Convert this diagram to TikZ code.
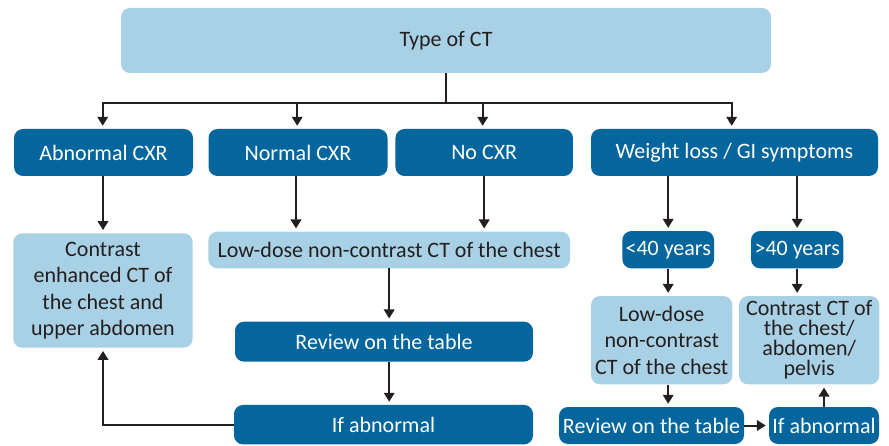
\documentclass[tikz,border=0pt]{standalone}
\usepackage{fontspec}
\setmainfont{Carlito}
\usetikzlibrary{arrows.meta}
\definecolor{lightbox}{HTML}{A9D1E5}
\definecolor{darkbox}{HTML}{04669C}
\definecolor{arrowc}{HTML}{231F20}
\begin{document}
\begin{tikzpicture}[x=1pt,y=-1pt,
  box/.style={rounded corners=9pt, inner sep=0pt, align=center, font=\fontsize{22}{26.5}\selectfont},
  lbox/.style={box, fill=lightbox, text=arrowc},
  dbox/.style={box, fill=darkbox, text=white},
  ln/.style={draw=arrowc, line width=2pt},
  arr/.style={ln, -{Triangle[length=9pt,width=10.5pt]}, shorten >=3pt}]
\useasboundingbox (0,0) rectangle (889,446);

\node[lbox, minimum width=650pt, minimum height=65pt] (top) at (446,40.5) {Type of CT};

\node[dbox, minimum width=179pt, minimum height=47pt] (abn) at (103.5,152.5) {Abnormal CXR};
\node[dbox, minimum width=179pt, minimum height=47pt] (norm) at (298,152.5) {Normal CXR};
\node[dbox, minimum width=177.5pt, minimum height=47pt] (nocxr) at (484.2,152.5) {No CXR};
\node[dbox, minimum width=287pt, minimum height=47pt] (wl) at (734.5,152.5) {Weight loss / GI symptoms};

\node[lbox, minimum width=179.4pt, minimum height=114.4pt] (contr) at (103,290.5) {Contrast\\enhanced CT of\\the chest and\\upper abdomen};
\node[lbox, minimum width=361.7pt, minimum height=36.6pt] (lowd) at (389.2,250) {Low-dose non-contrast CT of the chest};
\node[dbox, minimum width=298pt, minimum height=40pt] (rev) at (384,341.7) {Review on the table};
\node[dbox, minimum width=299pt, minimum height=39.5pt] (ifab) at (383.5,424.7) {If abnormal};

\node[dbox, minimum width=91.7pt, minimum height=37.3pt] (lt40) at (668.2,249.7) {<40 years};
\node[dbox, minimum width=92.3pt, minimum height=37.3pt] (gt40) at (797.2,249.7) {>40 years};
\node[lbox, minimum width=141.3pt, minimum height=88.3pt] (lowr) at (661.7,340.2) {Low-dose\\non-contrast\\CT of the chest};
\node[lbox, minimum width=140.3pt, minimum height=88.3pt, font=\fontsize{22}{20}\selectfont] (conr) at (809.2,340.2) {Contrast CT of\\the chest/\\abdomen/\\pelvis};
\node[dbox, minimum width=185pt, minimum height=37pt] (revr) at (651.5,425.5) {Review on the table};
\node[dbox, minimum width=110pt, minimum height=37pt] (ifr) at (824,425.5) {If abnormal};

% top distribution
\coordinate (hub) at (446,103);
\draw[ln] (top.south) -- (hub);
\draw[arr] (hub) -| ([xshift=-0.8pt]abn.north);
\draw[arr] (hub) -| ([xshift=-0.8pt]norm.north);
\draw[arr] (hub) -| ([xshift=-1.5pt]nocxr.north);
\draw[arr] (hub) -| ([xshift=-2.8pt]wl.north);

% left column
\draw[arr] ([xshift=-0.5pt]abn.south) -- ([xshift=-0.5pt]abn.south |- contr.north);
\draw[arr] ([xshift=-2pt]norm.south) -- ([xshift=-2pt]norm.south |- lowd.north);
\draw[arr] (nocxr.south) -- (nocxr.south |- lowd.north);
\draw[arr] (lowd.south) -- (lowd.south |- rev.north);
\draw[arr] (lowd.south |- rev.south) -- (lowd.south |- ifab.north);
\draw[arr] (ifab.west) -| (contr.south);

% right column
\draw[arr] (lt40.north |- wl.south) -- (lt40.north);
\draw[arr] (gt40.north |- wl.south) -- (gt40.north);
\draw[arr] (lt40.south) -- (lt40.south |- lowr.north);
\draw[arr] (gt40.south) -- (gt40.south |- conr.north);
\draw[arr] (lt40.south |- lowr.south) -- (lt40.south |- revr.north);
\draw[arr] (revr.east) -- (ifr.west);
\draw[arr] (ifr.north) -- (ifr.north |- conr.south);
\end{tikzpicture}
\end{document}
